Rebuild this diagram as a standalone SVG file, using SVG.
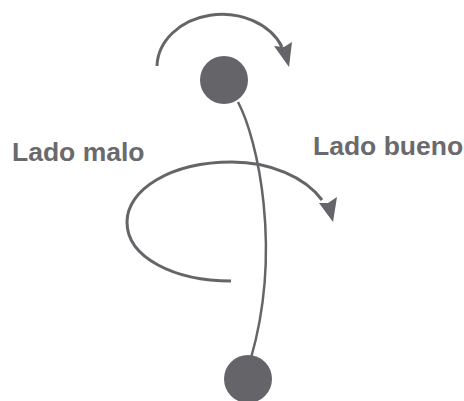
<svg xmlns="http://www.w3.org/2000/svg" width="464" height="401" viewBox="0 0 464 401">
  <style>
    .ink { fill: #656569; }
    .curve { fill: none; stroke: #656569; stroke-width: 3; stroke-linecap: butt; }
    .link { fill: none; stroke: #656569; stroke-width: 2.5; }
    .label { font-family: "Liberation Sans", Arial, sans-serif; font-weight: bold; font-size: 26.5px; fill: #6a6a6e; }
  </style>

  <!-- connector between the two bobs -->
  <g id="connectors">
    <path class="link" d="M238,102 C258,140 282,250 251,358"/>
  </g>

  <g id="top-bob">
    <circle class="ink" cx="224" cy="80" r="24"/>
  </g>

  <g id="bottom-bob">
    <circle class="ink" cx="248" cy="379" r="24"/>
  </g>

  <!-- upper rotation arrow -->
  <g id="top-rotation">
    <path class="curve" d="M157,66 A65,53 0 0 1 282,47"/>
    <polygon class="ink" points="274,46 289,67 292,42 284,47"/>
  </g>

  <!-- lower rotation loop -->
  <g id="bottom-rotation">
    <path class="curve" d="M231,281 C175,281 127,258 127,222 C127,190 170,162 232,162 C270,162 305,177 322,200"/>
    <polygon class="ink" points="319,203 333,222 337,197 328,203"/>
  </g>

  <g id="label-bad">
    <text class="label" x="12" y="161">Lado malo</text>
  </g>
  <g id="label-good">
    <text class="label" x="313" y="155">Lado bueno</text>
  </g>
</svg>
